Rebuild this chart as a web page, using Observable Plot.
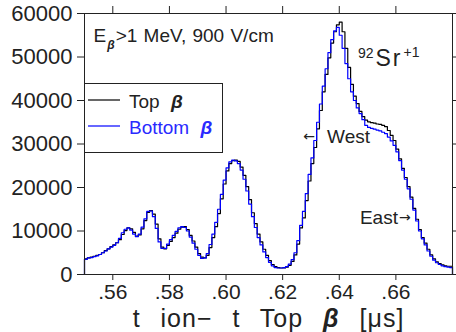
<!DOCTYPE html>
<html><head><meta charset="utf-8">
<script src="https://cdn.jsdelivr.net/npm/d3@7"></script>
<script src="https://cdn.jsdelivr.net/npm/@observablehq/plot@0.6"></script>
<style>
html,body{margin:0;padding:0;background:#fff;}
svg{display:block;}
</style></head><body><div id="chart"></div>
<script>
// histogram bins: 0.550 .. 0.679 (left edges), width 0.001 us
const binStart = 0.55, binWidth = 0.001, binEnd = 0.68;
const topBeta = [
  3600, 3800, 4000, 4200, 4400, 4600, 5000, 5500, 5900, 6400,
  6800, 7300, 8000, 9200, 10100, 10700, 10500, 9700, 8800, 9100,
  10500, 12400, 14300, 14700, 13900, 11600, 8200, 6300, 5900, 6700,
  7600, 8500, 9500, 10400, 10900, 11000, 10300, 9000, 7700, 6300,
  4800, 4000, 3800, 4400, 6200, 8500, 11000, 14000, 17400, 20800,
  23800, 25500, 26200, 26300, 26000, 24700, 22800, 20200, 17200, 14200,
  11700, 9300, 7500, 5800, 4400, 3200, 2300, 1800, 1600, 1500,
  1500, 1700, 2100, 3000, 4500, 7000, 10700, 13000, 17000, 21500,
  25500, 29200, 33500, 37700, 42000, 46000, 49800, 53200, 55800, 57400,
  58000, 55800, 52000, 47600, 43700, 41000, 39300, 37500, 36300, 35500,
  35100, 34900, 34800, 34600, 34500, 34300, 34000, 33100, 32000, 30800,
  28800, 26600, 24400, 22300, 20200, 17800, 15200, 12700, 10300, 8500,
  7200, 5800, 4500, 3600, 2900, 2500, 2200, 2000, 1900, 1900
];
const bottomBeta = [
  3500, 3800, 3900, 4100, 4300, 4600, 5000, 5400, 5900, 6300,
  6700, 7300, 8300, 9600, 10400, 10700, 10200, 9300, 8700, 9300,
  10900, 12800, 14500, 14600, 13300, 10600, 7500, 6000, 6000, 7000,
  8000, 9000, 9900, 10700, 11000, 10800, 10000, 8600, 7200, 5800,
  4400, 3700, 3800, 4800, 6900, 9300, 12000, 15000, 18400, 21700,
  24500, 25900, 26300, 26100, 25500, 24000, 21900, 19200, 16200, 13300,
  10800, 8500, 6800, 5200, 3900, 2800, 2000, 1600, 1500, 1500,
  1600, 1800, 2400, 3400, 5000, 7800, 11300, 14500, 18600, 23000,
  26800, 30800, 35000, 39200, 43300, 47300, 51000, 54000, 56000, 56800,
  55000, 52000, 48500, 45000, 42000, 40000, 38300, 37000, 35600, 34300,
  33800, 33600, 33400, 33200, 33000, 32700, 32400, 31600, 30700, 29700,
  28200, 26200, 24000, 21900, 19700, 17300, 14800, 12300, 10000, 8200,
  6800, 5400, 4200, 3300, 2700, 2300, 2000, 1800, 1700, 1600
];
const xTicks = [0.56, 0.58, 0.60, 0.62, 0.64, 0.66];
const yTicks = [0, 10000, 20000, 30000, 40000, 50000, 60000];
const seriesNames = ["Top", "Bottom"];
const seriesColors = ["#000000", "#0000ff"];

function histPoints(values) {
  const pts = [{x: binStart, y: 0}];
  values.forEach((v, i) => pts.push({x: +(binStart + i * binWidth).toFixed(3), y: v}));
  pts.push({x: binEnd, y: 0});
  return pts;
}

const ink = "#222";
const font = "'Liberation Sans', Arial, sans-serif";
const arrowFont = "'DejaVu Sans', sans-serif";
const fmtX = d => d.toFixed(2).replace(/^0/, "");

const plot = Plot.plot({
  width: 456, height: 332,
  marginLeft: 84, marginRight: 4, marginTop: 13, marginBottom: 58,
  style: {fontFamily: font, color: ink, background: "#fff", overflow: "visible"},
  x: {domain: [binStart, binEnd], label: null},
  y: {domain: [0, 60000], label: null},
  marks: [
    Plot.axisY(yTicks, {anchor: "left", tickSize: 7, tickPadding: 5, tickFormat: d3.format("d"), fontSize: 22, stroke: ink, fill: ink, label: null}),
    Plot.axisY(yTicks, {anchor: "right", tickSize: 5, tickFormat: () => "", stroke: ink, label: null}),
    Plot.axisX(xTicks, {anchor: "bottom", tickSize: 6, tickPadding: 4, tickFormat: fmtX, fontSize: 21, stroke: ink, fill: ink, label: null}),
    Plot.axisX(xTicks, {anchor: "top", tickSize: 8, tickFormat: () => "", stroke: ink, label: null}),
    Plot.line(histPoints(topBeta), {x: "x", y: "y", curve: "step-after", stroke: seriesColors[0], strokeWidth: 1.2}),
    Plot.line(histPoints(bottomBeta), {x: "x", y: "y", curve: "step-after", stroke: seriesColors[1], strokeWidth: 1.2}),
    Plot.frame({stroke: ink, strokeWidth: 1}),
    Plot.text(["E"], {frameAnchor: "top-left", dx: 9, dy: 28.5, lineAnchor: "bottom", textAnchor: "start", fontSize: 19, fill: ink, ariaDescription: "title"}),
    Plot.text([{x: 0.6466, y: 48000}], {x: "x", y: "y", text: () => "Sr", textAnchor: "start", lineAnchor: "bottom", fontSize: 23, fill: ink, ariaDescription: "ion"}),
    Plot.text([{x: 0.6273, y: 30200}], {x: "x", y: "y", text: () => "West", textAnchor: "start", lineAnchor: "bottom", fontSize: 19, fill: ink, ariaDescription: "west"}),
    Plot.text([{x: 0.6473, y: 11700}], {x: "x", y: "y", text: () => "East", textAnchor: "start", lineAnchor: "bottom", fontSize: 19, fill: ink, ariaDescription: "east"}),
    Plot.text(["t ion\u2212 t Top"], {frameAnchor: "bottom", dy: 52.5, lineAnchor: "bottom", fontSize: 25, fill: ink, ariaDescription: "xlabel"})
  ]
});

const svg = d3.select(plot);

function rich(desc, parts, attrs = {}) {
  const t = svg.select(`[aria-description="${desc}"] text`);
  t.text(null);
  for (const [k, v] of Object.entries(attrs)) t.style(k, v);
  for (const p of parts) {
    const s = t.append("tspan").text(p.t);
    if (p.size) s.attr("font-size", p.size);
    if (p.bold) s.attr("font-weight", "bold");
    if (p.italic) s.attr("font-style", "italic");
    if (p.family) s.attr("font-family", p.family);
    if (p.ls) s.attr("letter-spacing", p.ls);
    if (p.dy) s.attr("dy", p.dy);
    if (p.dx) s.attr("dx", p.dx);
  }
}

rich("title", [
  {t: "E"},
  {t: "\u03b2", size: 12, bold: true, italic: true, dy: 7, dx: 1},
  {t: ">1 MeV, 900 V/cm", dy: -7, dx: 1}
], {"word-spacing": "1px"});
rich("ion", [
  {t: "92", size: 14, dy: -8},
  {t: "Sr", dy: 8, dx: 2, ls: 2},
  {t: "+1", size: 14, dy: -9, dx: 1}
]);
rich("west", [
  {t: "\u2190", size: 14, dy: -2, family: arrowFont},
  {t: "West", dy: 2, dx: 12}
]);
rich("east", [
  {t: "East"},
  {t: "\u2192", size: 14, dy: -2, dx: 1, family: arrowFont}
]);
rich("xlabel", [
  {t: "t ion\u2212 t Top "},
  {t: "\u03b2", bold: true, italic: true},
  {t: " [\u03bcs]"}
], {"word-spacing": "12px", "letter-spacing": "1px"});

// legend box
const lg = svg.append("g").attr("font-family", font).attr("font-size", 19).attr("text-anchor", "start");
lg.append("rect").attr("x", 84.5).attr("y", 83.5).attr("width", 138).attr("height", 69)
  .attr("fill", "#fff").attr("stroke", ink);
seriesNames.forEach((name, i) => {
  const yy = 100 + i * 26;
  lg.append("line").attr("x1", 88).attr("x2", 120).attr("y1", yy).attr("y2", yy)
    .attr("stroke", seriesColors[i]).attr("stroke-width", 1.2);
  const tx = lg.append("text").attr("x", 129).attr("y", yy + 8)
    .attr("fill", i === 0 ? ink : "#2a2aff");
  tx.append("tspan").text(name + " ");
  tx.append("tspan").attr("dx", 6).attr("font-weight", "bold").attr("font-style", "italic").text("\u03b2");
});

document.getElementById("chart").append(plot);
</script>
</body></html>
